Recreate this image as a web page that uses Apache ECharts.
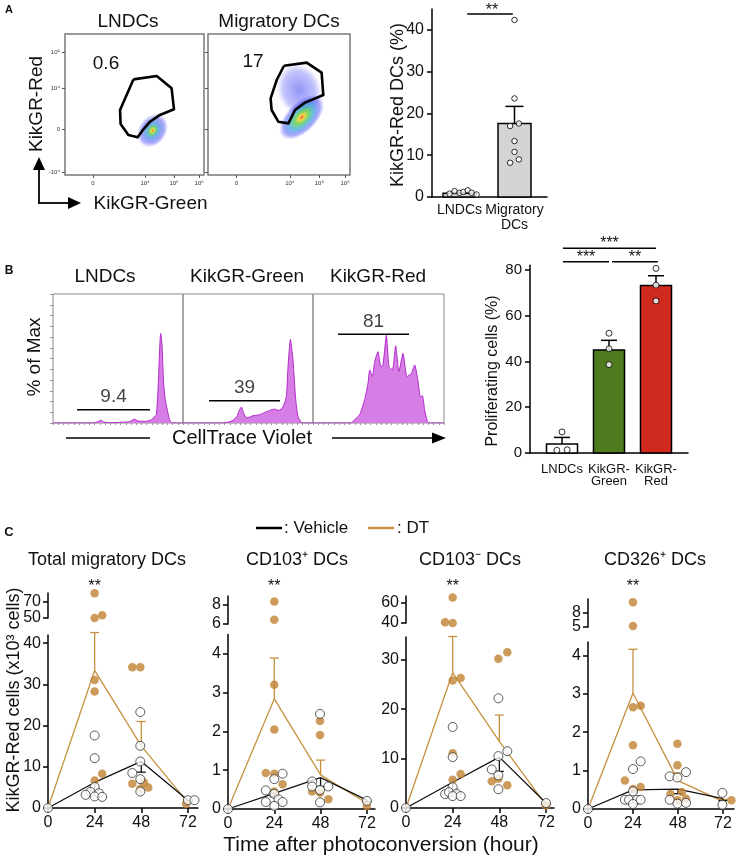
<!DOCTYPE html>
<html><head><meta charset="utf-8">
<script src="https://cdn.jsdelivr.net/npm/echarts@6/dist/echarts.min.js"></script>
<style>html,body{margin:0;padding:0;background:#fff}#c{width:736px;height:858px}</style>
</head><body><div id="c"></div>
<script>
const FONT = "'Liberation Sans', Arial, Helvetica, sans-serif";

// ===== Panel A: flow plots (abstract 0-100 display units) =====
const flowTitles = ['LNDCs', 'Migratory DCs'];
const flowGatePct = ['0.6', '17'];
const flowXTickPos = [20, 57.6, 78.4, 96.5];
const flowXTickLabels = ['0', '10⁴', '10⁵', '10⁶'];
const flowYTickPos = [2.1, 32.6, 61.7, 87.2];
const flowYTickLabels = ['-10⁴', '0', '10⁴', '10⁵'];
const gateLNDC = [[49.2,67.8],[66,70.2],[76.7,61.5],[78.4,46.6],[68.3,42.6],[61.2,37.8],[56.4,32.4],[52.3,26.7],[45.6,28.4],[40,36.2],[39.6,46.1],[49.2,67.8]];
const gateMig = [[53.5,77.5],[69.5,79.7],[80,72.6],[81.2,56.7],[68.3,51.3],[61.3,46.1],[56.6,36.6],[49.5,37.8],[44.8,46.1],[44.1,54.4],[48.4,67.4],[53.5,77.5]];
const cloudLNDC = [[63, 31.5]];
const cloudMigSparse = [[64.3, 60.3]];
const cloudMigDense = [[66, 40.9]];

// ===== Panel A: bar chart =====
const barACats = ['LNDCs', 'Migratory\nDCs'];
const barAMean = [0.9, 17.6];
const barASem = [0.2, 4.1];
const barAPointsLN = [0.8, 1.4, 1.0, 1.2, 1.6, 1.0, 0.6];
const barAJitterLN = [-0.18, -0.09, 0, 0.07, 0.15, 0.22, 0.31];
const barAPointsMig = [42.4, 23.6, 17.0, 17.6, 13.4, 10.8, 8.2, 9.0];
const barAJitterMig = [0, 0, -0.08, 0.08, 0, 0, -0.08, 0.08];
const barATicks = [0, 10, 20, 30, 40];

// ===== Panel B: histograms (x: CellTrace Violet, y: % of Max) =====
const histTitles = ['LNDCs', 'KikGR-Green', 'KikGR-Red'];
const histLNDC = [[0,0],[30.8,0],[34.6,1.5],[36.7,3],[39,1.1],[43.6,0.4],[51.3,0.7],[59,1.5],[62.8,4.4],[65.4,2.2],[71.8,1.9],[75.6,3.7],[77.7,6.7],[79.5,9.3],[81,44],[82.1,85],[82.8,100],[83.8,89],[85.1,44],[86.4,26],[87.9,14.8],[89.7,3.7],[91,0.7],[93,0],[100,0]];
const histGreen = [[0,0],[28,0],[33.3,0.5],[38.5,3],[41.5,7.4],[43,13],[44.9,17.8],[46.7,11],[49.2,5.6],[53.8,8.1],[59,9.3],[62.8,11.8],[66.7,14],[70.5,15.5],[73.8,14],[76.9,17.8],[79.5,29.6],[80.8,62.9],[82.6,93.2],[84.6,70.3],[86.7,25.9],[88.5,7.4],[91,0.7],[93,0],[100,0]];
const histRed = [[0,0],[29.3,0],[30.5,1.9],[35.6,9.3],[39.4,25.9],[42,44.4],[43.3,59.2],[45.3,51.8],[47.1,68.5],[49.6,79.6],[51.7,62.9],[53.4,64.8],[56,98],[58,62.9],[60.6,59.2],[63.1,86.2],[65.6,57.4],[68.7,77.7],[71.8,51.8],[75.1,55.5],[77.6,64.8],[80.2,46.3],[81.9,29.6],[83.5,30.3],[85.2,14.8],[87.3,1.9],[89,0],[100,0]];
const histGateLabels = ['9.4', '39', '81'];
const histGateRanges = [[18.5, 74.6, 14.8], [20, 74.6, 24.9], [19.1, 73.3, 99]];

// ===== Panel B: bar chart =====
const barBCats = ['LNDCs', 'KikGR-\nGreen', 'KikGR-\nRed'];
const barBMean = [3.9, 45.0, 73.1];
const barBSem = [2.9, 4.2, 4.3];
const barBPoints = [[9.2, 1.2, 1.4], [52.3, 45.5, 38.6], [80.6, 73.3, 66.4]];
const barBJitter = [[0, -0.11, 0.11], [0, 0, 0], [0, 0, 0]];
const barBTicks = [0, 20, 40, 60, 80];

// ===== Panel C =====
const cTimes = [0, 24, 48, 72];
const cTitles = ['Total migratory DCs', 'CD103⁺ DCs', 'CD103⁻ DCs', 'CD326⁺ DCs'];

const c1VehMean = [0, 6.2, 11.3, 1.9];
const c1VehSem = [0, 2.0, 2.6, 0.2];
const c1DtMean = [0, 33.4, 15.1, 1.3];
const c1DtSem = [0, 9.2, 5.9, 0.2];
const c1VehPts = [[0,0],[24,17.6],[24,12.1],[24,5.1],[21.9,3.9],[19.4,3.2],[26.2,3.6],[24,2.8],[27.9,2.7],[47.5,23.3],[47.5,15.1],[47.5,11.3],[43.4,8.5],[47.5,7.0],[47.5,4.0],[72,1.9],[75.4,1.9]];
const c1DtPts = [[24,31.1],[24,28.3],[24,6.7],[27.9,8.3],[43.4,34.2],[47.5,34.2],[43.4,5.9],[49.4,6.2],[47.5,4.7],[51.6,5.0],[71.1,1.0]];
const c1DtPtsUp = [[24,80.9],[24,50],[27.9,53.5]];
const c1LowTicks = [0, 10, 20, 30, 40];
const c1UpTicks = [50, 70];

const c2VehMean = [0, 0.40, 0.81, 0.23];
const c2VehSem = [0, 0.08, 0.23, 0.05];
const c2DtMean = [0, 2.84, 0.88, 0.15];
const c2DtSem = [0, 1.05, 0.38, 0.05];
const c2VehPts = [[0,0],[28.3,0.91],[24,0.77],[19.6,0.48],[24,0.39],[19.6,0.18],[26.2,0.25],[28.3,0.18],[24,0.08],[47.7,2.45],[43.6,0.71],[43.6,0.58],[47.7,0.49],[52,0.58],[47.7,0.17],[72,0.21]];
const c2DtPts = [[24,3.2],[24,2.05],[19.6,0.93],[24,0.91],[28.3,0.64],[24,0.45],[47.7,2.27],[47.7,1.91],[43.6,0.45],[47.7,0.42],[52,0.25],[72,0.08]];
const c2DtPtsUp = [[24,8.34],[24,6.45]];
const c2LowTicks = [0, 1, 2, 3, 4];
const c2UpTicks = [6, 8];

const c3VehMean = [0, 5.2, 10.3, 1.0];
const c3VehSem = [0, 1.8, 2.9, 0.2];
const c3DtMean = [0, 27.4, 13.5, 0.6];
const c3DtSem = [0, 7.3, 5.3, 0.2];
const c3VehPts = [[0,0],[24,16.4],[24,10.3],[24,4.2],[20.1,2.8],[22.1,3.2],[26,2.9],[24,2.4],[28.1,2.4],[47.5,22.2],[47.5,10.5],[52.1,11.5],[44.1,7.8],[47.5,6.6],[47.5,3.8],[72,1.0]];
const c3DtPts = [[24,25.8],[28.1,26.3],[24,11.1],[24,5.7],[28.1,6.9],[47.5,30.2],[52.1,31.5],[44.1,5.4],[47.5,5.9],[52.1,4.6],[72,0.5]];
const c3DtPtsUp = [[24,65.3],[20.1,40.7],[24,40]];
const c3LowTicks = [0, 10, 20, 30];
const c3UpTicks = [40, 60];

const c4VehMean = [0, 0.50, 0.52, 0.27];
const c4VehSem = [0, 0.05, 0.12, 0.05];
const c4DtMean = [0, 3.02, 0.74, 0.2];
const c4DtSem = [0, 1.14, 0.2, 0.05];
const c4VehPts = [[0,0],[28.1,1.24],[24,1.04],[24,0.46],[19.7,0.24],[21.9,0.24],[26.1,0.24],[28.1,0.24],[24,0.13],[52.3,0.96],[43.6,0.85],[47.7,0.82],[43.6,0.24],[47.7,0.14],[52.3,0.16],[71.7,0.42],[71.7,0.11]];
const c4DtPts = [[24,2.65],[28.1,2.69],[24,1.66],[19.7,0.74],[28.1,0.57],[24,0.52],[47.7,1.70],[47.7,1.14],[44,0.39],[50.1,0.44],[47.7,0.23],[52.3,0.27],[76.5,0.23]];
const c4DtPtsUp = [[24,10.2],[24,5.2]];
const c4LowTicks = [0, 1, 2, 3, 4];
const c4UpTicks = [5, 8];

// ---------------- layout & styles ----------------
const ORANGE_DOT = '#c08232', ORANGE_LINE = '#c6913f';
const HIST_FILL = '#d67ee6', HIST_LINE = '#b02bc8';
const grids = [], xAxes = [], yAxes = [], series = [], extraYAxes = [];
function addGrid(g, xa, ya) {
  grids.push(g); const gi = grids.length - 1;
  xa.gridIndex = gi; ya.gridIndex = gi;
  xa.splitLine = {show: false}; ya.splitLine = {show: false};
  xAxes.push(xa); yAxes.push(ya); return gi;
}
const blackLine = {show: true, onZero: false, lineStyle: {color: '#000', width: 1.5}};
const lbl = (size, extra) => Object.assign({fontSize: size, fontFamily: FONT, color: '#111', showMinLabel: true, showMaxLabel: true}, extra || {});

// gradients
const denseGrad = {type: 'radial', x: 0.5, y: 0.5, r: 0.5, colorStops: [
  {offset: 0, color: 'rgba(235,30,20,1)'}, {offset: 0.12, color: 'rgba(250,205,25,1)'},
  {offset: 0.3, color: 'rgba(80,205,60,0.95)'}, {offset: 0.55, color: 'rgba(30,150,215,0.8)'},
  {offset: 0.8, color: 'rgba(40,40,240,0.5)'}, {offset: 1, color: 'rgba(40,40,255,0)'}]};
const lnGrad = {type: 'radial', x: 0.5, y: 0.5, r: 0.5, colorStops: [
  {offset: 0, color: 'rgba(235,30,20,1)'}, {offset: 0.08, color: 'rgba(250,205,25,1)'},
  {offset: 0.2, color: 'rgba(80,205,60,0.95)'}, {offset: 0.4, color: 'rgba(30,130,220,0.8)'},
  {offset: 0.75, color: 'rgba(40,40,240,0.5)'}, {offset: 1, color: 'rgba(40,40,255,0)'}]};
const sparseGrad = {type: 'radial', x: 0.5, y: 0.5, r: 0.5, colorStops: [
  {offset: 0, color: 'rgba(45,55,235,0.65)'}, {offset: 0.7, color: 'rgba(55,55,245,0.38)'},
  {offset: 1, color: 'rgba(60,60,255,0)'}]};

// ---- Flow plots
const flowLayout = [{left: 65, top: 34, width: 139, height: 141}, {left: 208, top: 34, width: 142, height: 141}];
const flowGates = [gateLNDC, gateMig];
flowLayout.forEach((f, i) => {
  const gi = addGrid(Object.assign({show: true, borderColor: '#7a7a7a', borderWidth: 1.5}, f),
    {type: 'value', min: 0, max: 100, axisLine: {show: false},
     axisTick: {show: true, customValues: flowXTickPos, length: 3, lineStyle: {color: '#555'}},
     axisLabel: {show: true, customValues: flowXTickPos, formatter: v => flowXTickLabels[flowXTickPos.indexOf(v)], fontSize: 6, color: '#333', margin: 5, fontFamily: FONT, showMinLabel: true, showMaxLabel: true}},
    {type: 'value', min: 0, max: 100, axisLine: {show: false},
     axisTick: {show: true, customValues: flowYTickPos, length: 3, lineStyle: {color: '#555'}},
     axisLabel: {show: i === 0, customValues: flowYTickPos, formatter: v => flowYTickLabels[flowYTickPos.indexOf(v)], fontSize: 6, color: '#333', margin: 5, fontFamily: FONT, showMinLabel: true, showMaxLabel: true}});
  series.push({type: 'line', xAxisIndex: gi, yAxisIndex: gi, data: flowGates[i], symbol: 'none', z: 6, silent: true,
    lineStyle: {color: '#000', width: 2.6, join: 'round'}});
});
series.push({type: 'scatter', xAxisIndex: 0, yAxisIndex: 0, data: cloudLNDC, symbolSize: [36, 28], symbolRotate: 55, clip: false, z: 3, silent: true, itemStyle: {color: lnGrad}});
series.push({type: 'scatter', xAxisIndex: 1, yAxisIndex: 1, data: cloudMigSparse, symbolSize: [44, 54], symbolRotate: 20, clip: false, z: 2, silent: true, itemStyle: {color: sparseGrad}});
series.push({type: 'scatter', xAxisIndex: 1, yAxisIndex: 1, data: cloudMigDense, symbolSize: [56, 30], symbolRotate: 45, clip: false, z: 3, silent: true, itemStyle: {color: denseGrad}});

// ---- bar render helper
function makeBarRender(halfW, colors, capHalf) {
  return function (params, api) {
    const x = api.value(0), m = api.value(1), s = api.value(2);
    const bl = api.coord([x - halfW, 0]), tr = api.coord([x + halfW, m]);
    const top = api.coord([x, m]), et = api.coord([x, m + s]);
    return {type: 'group', children: [
      {type: 'line', shape: {x1: top[0], y1: top[1], x2: et[0], y2: et[1]}, style: {stroke: '#000', lineWidth: 1.5}},
      {type: 'line', shape: {x1: et[0] - capHalf, y1: et[1], x2: et[0] + capHalf, y2: et[1]}, style: {stroke: '#000', lineWidth: 1.5}},
      {type: 'rect', shape: {x: bl[0], y: tr[1], width: tr[0] - bl[0], height: bl[1] - tr[1]}, style: {fill: colors[params.dataIndex], stroke: '#000', lineWidth: 1.5}}
    ]};
  };
}

// ---- Panel A bar
const gA = addGrid({left: 432, top: 9.1, width: 115, height: 187.9},
  {type: 'value', min: 0.5, max: 2.591, axisLine: blackLine, axisTick: {show: false},
   axisLabel: lbl(14, {customValues: [1, 2], formatter: v => barACats[Math.round(v) - 1], lineHeight: 14.5, margin: 6})},
  {type: 'value', min: 0, max: 45, axisLine: blackLine,
   axisTick: {show: true, customValues: barATicks, length: 5, lineStyle: {color: '#000', width: 1.5}},
   axisLabel: lbl(16, {customValues: barATicks, margin: 8})});
series.push({type: 'custom', coordinateSystem: 'cartesian2d', xAxisIndex: gA, yAxisIndex: gA, z: 2,
  renderItem: makeBarRender(0.3, ['#d4d4d4', '#d4d4d4'], 9),
  data: barAMean.map((m, i) => [i + 1, m, barASem[i]])});
series.push({type: 'scatter', xAxisIndex: gA, yAxisIndex: gA, symbolSize: 5.5, clip: false, z: 5,
  itemStyle: {color: '#fff', borderColor: '#000', borderWidth: 1},
  data: barAPointsLN.map((v, i) => [1 + barAJitterLN[i], v]).concat(barAPointsMig.map((v, i) => [2 + barAJitterMig[i], v]))});
series.push({type: 'line', xAxisIndex: gA, yAxisIndex: gA, symbol: 'none', clip: false, lineStyle: {color: '#000', width: 1.5},
  data: [[1 + 0.14, 43.8], [2 - 0.03, 43.8]]});

// ---- Panel B histograms
const histLayout = [{left: 53, width: 130}, {left: 183, width: 130}, {left: 313, width: 131}];
const histData = [histLNDC, histGreen, histRed];
histLayout.forEach((h, i) => {
  const gi = addGrid({left: h.left, top: 294, width: h.width, height: 129, show: true, borderColor: '#8a8a8a', borderWidth: 1},
    {type: 'value', min: 0, max: 100, interval: 4, axisLine: {show: false},
     axisTick: {show: true, length: 2, lineStyle: {color: '#999'}}, axisLabel: {show: false}},
    {type: 'value', min: 0, max: 144, interval: 12, axisLine: {show: false},
     axisTick: {show: i === 0, length: 3, lineStyle: {color: '#999'}}, axisLabel: {show: false}});
  series.push({type: 'line', xAxisIndex: gi, yAxisIndex: gi, data: histData[i], symbol: 'none', smooth: 0.2, z: 2,
    lineStyle: {color: HIST_LINE, width: 1}, areaStyle: {color: HIST_FILL, opacity: 1}});
  const g = histGateRanges[i];
  series.push({type: 'line', xAxisIndex: gi, yAxisIndex: gi, symbol: 'none', z: 4, lineStyle: {color: '#000', width: 1.5},
    data: [[g[0], g[2]], [g[1], g[2]]]});
  series.push({type: 'scatter', xAxisIndex: gi, yAxisIndex: gi, symbolSize: 0, clip: false, z: 4,
    data: [[(g[0] + g[1]) / 2, g[2]]],
    label: {show: true, position: 'top', distance: 3, formatter: () => histGateLabels[i], fontSize: 19, fontFamily: FONT, color: '#111'}});
});

// ---- Panel B bar
const gB = addGrid({left: 530, top: 265.2, width: 158, height: 187.8},
  {type: 'value', min: 0.319, max: 3.681, axisLine: blackLine, axisTick: {show: false},
   axisLabel: lbl(13, {customValues: [1, 2, 3], formatter: v => barBCats[Math.round(v) - 1], lineHeight: 12.5, margin: 10})},
  {type: 'value', min: 0, max: 82, axisLine: blackLine,
   axisTick: {show: true, customValues: barBTicks, length: 5, lineStyle: {color: '#000', width: 1.5}},
   axisLabel: lbl(15, {customValues: barBTicks, margin: 8})});
series.push({type: 'custom', coordinateSystem: 'cartesian2d', xAxisIndex: gB, yAxisIndex: gB, z: 2,
  renderItem: makeBarRender(0.33, ['#ffffff', '#4e7b1d', '#d02a1e'], 8),
  data: barBMean.map((m, i) => [i + 1, m, barBSem[i]])});
series.push({type: 'scatter', xAxisIndex: gB, yAxisIndex: gB, symbolSize: 6, clip: false, z: 5,
  itemStyle: {color: '#fff', borderColor: '#000', borderWidth: 1},
  data: barBPoints.flatMap((arr, i) => arr.map((v, j) => [i + 1 + barBJitter[i][j], v]))});
[[1.02, 3.0, 89.4], [1.02, 2.0, 83.5], [2.064, 3.04, 83.5]].forEach(b => {
  series.push({type: 'line', xAxisIndex: gB, yAxisIndex: gB, symbol: 'none', clip: false, lineStyle: {color: '#000', width: 1.5},
    data: [[b[0], b[2]], [b[1], b[2]]]});
});

// ---- Panel C
const cSets = [
  {vm: c1VehMean, vs: c1VehSem, dm: c1DtMean, ds: c1DtSem, vp: c1VehPts, dp: c1DtPts, du: c1DtPtsUp, lt: c1LowTicks, ut: c1UpTicks},
  {vm: c2VehMean, vs: c2VehSem, dm: c2DtMean, ds: c2DtSem, vp: c2VehPts, dp: c2DtPts, du: c2DtPtsUp, lt: c2LowTicks, ut: c2UpTicks},
  {vm: c3VehMean, vs: c3VehSem, dm: c3DtMean, ds: c3DtSem, vp: c3VehPts, dp: c3DtPts, du: c3DtPtsUp, lt: c3LowTicks, ut: c3UpTicks},
  {vm: c4VehMean, vs: c4VehSem, dm: c4DtMean, ds: c4DtSem, vp: c4VehPts, dp: c4DtPts, du: c4DtPtsUp, lt: c4LowTicks, ut: c4UpTicks}];
const cLayout = [
  {left: 48, width: 150, lowTop: 635, lowH: 173, upTop: 593, upH: 25, xMax: 77.2, yMax: 42, up: [50, 81.25]},
  {left: 228, width: 147, lowTop: 634.4, lowH: 174.6, upTop: 596, upH: 28, xMax: 76.2, yMax: 4.5, up: [6, 8.9]},
  {left: 406, width: 148, lowTop: 637, lowH: 171, upTop: 596, upH: 27, xMax: 76.1, yMax: 34.6, up: [40, 66.7]},
  {left: 588, width: 146, lowTop: 642, lowH: 167, upTop: 599, upH: 28, xMax: 77.9, yMax: 4.35, up: [5, 10.9]}];
function makeErrRender(dir, color, capHalf) {
  return function (params, api) {
    const x = api.value(0), m = api.value(1), s = api.value(2);
    const a = api.coord([x, m]), b = api.coord([x, m + dir * s]);
    return {type: 'group', children: [
      {type: 'line', shape: {x1: a[0], y1: a[1], x2: b[0], y2: b[1]}, style: {stroke: color, lineWidth: 1.3}},
      {type: 'line', shape: {x1: b[0] - capHalf, y1: b[1], x2: b[0] + capHalf, y2: b[1]}, style: {stroke: color, lineWidth: 1.3}}]};
  };
}
const vehOpen = {color: '#fff', borderColor: '#333', borderWidth: 1};
cSets.forEach((s, i) => {
  const L0 = cLayout[i];
  const gl = addGrid({left: L0.left, top: L0.lowTop, width: L0.width, height: L0.lowH},
    {type: 'value', min: 0, max: L0.xMax, axisLine: blackLine,
     axisTick: {show: true, customValues: cTimes, length: 5, lineStyle: {color: '#000', width: 1.5}},
     axisLabel: lbl(16, {customValues: cTimes, margin: 7})},
    {type: 'value', min: 0, max: L0.yMax, axisLine: blackLine,
     axisTick: {show: true, customValues: s.lt, length: 5, lineStyle: {color: '#000', width: 1.5}},
     axisLabel: lbl(16, {customValues: s.lt, margin: 7})});
  const gu = addGrid({left: L0.left, top: L0.upTop, width: L0.width, height: L0.upH},
    {type: 'value', min: 0, max: L0.xMax, show: false},
    {type: 'value', min: L0.up[0], max: L0.up[1], axisLine: blackLine,
     axisTick: {show: true, customValues: s.ut, length: 5, lineStyle: {color: '#000', width: 1.5}},
     axisLabel: lbl(16, {customValues: [s.ut[0]], margin: 7})});
  // second label-only axis on the upper segment (keeps close tick labels from hiding each other)
  extraYAxes.push({type: 'value', gridIndex: gu, position: 'left', min: L0.up[0], max: L0.up[1], splitLine: {show: false},
    axisLine: {show: false}, axisTick: {show: false}, axisLabel: lbl(16, {customValues: [s.ut[1]], margin: 7})});
  series.push({type: 'line', xAxisIndex: gl, yAxisIndex: gl, symbol: 'none', z: 2, lineStyle: {color: ORANGE_LINE, width: 1.3},
    data: cTimes.map((t, k) => [t, s.dm[k]])});
  series.push({type: 'line', xAxisIndex: gl, yAxisIndex: gl, symbol: 'none', z: 2, lineStyle: {color: '#111', width: 1.3},
    data: cTimes.map((t, k) => [t, s.vm[k]])});
  series.push({type: 'custom', coordinateSystem: 'cartesian2d', xAxisIndex: gl, yAxisIndex: gl, z: 3,
    renderItem: makeErrRender(1, ORANGE_LINE, 4.5), data: cTimes.slice(1).map((t, k) => [t, s.dm[k + 1], s.ds[k + 1]])});
  series.push({type: 'custom', coordinateSystem: 'cartesian2d', xAxisIndex: gl, yAxisIndex: gl, z: 3,
    renderItem: makeErrRender(-1, '#111', 4.5), data: cTimes.slice(1).map((t, k) => [t, s.vm[k + 1], s.vs[k + 1]])});
  series.push({type: 'scatter', xAxisIndex: gl, yAxisIndex: gl, symbolSize: 8.5, clip: false, z: 4, itemStyle: {color: ORANGE_DOT}, data: s.dp});
  series.push({type: 'scatter', xAxisIndex: gu, yAxisIndex: gu, symbolSize: 8.5, clip: false, z: 4, itemStyle: {color: ORANGE_DOT}, data: s.du});
  series.push({type: 'scatter', xAxisIndex: gl, yAxisIndex: gl, symbolSize: 9, clip: false, z: 5, itemStyle: vehOpen, data: s.vp});
});
extraYAxes.forEach(a => yAxes.push(a));

// ---------------- text / annotations ----------------
const T = (x, y, text, size, o) => { o = o || {}; return {type: 'text', x, y, rotation: o.rot || 0, silent: true, z: 100,
  style: {text, fontSize: size, fontFamily: FONT, fontWeight: o.bold ? 'bold' : 'normal', fill: o.color || '#111', align: o.align || 'center', verticalAlign: 'middle'}}; };
const Ln = (x1, y1, x2, y2, w, c) => ({type: 'line', silent: true, z: 100, shape: {x1, y1, x2, y2}, style: {stroke: c || '#000', lineWidth: w || 1.5}});
const Pg = (pts, c) => ({type: 'polygon', silent: true, z: 100, shape: {points: pts}, style: {fill: c || '#000'}});
const R90 = Math.PI / 2;
const elements = [
  T(9, 10, 'A', 11, {bold: true}), T(9, 271, 'B', 12, {bold: true}), T(9, 532, 'C', 13, {bold: true}),
  T(128, 22, flowTitles[0], 19), T(279, 22, flowTitles[1], 19),
  T(106, 63.5, flowGatePct[0], 19), T(253, 62, flowGatePct[1], 19),
  T(36.5, 104, 'KikGR-Red', 19, {rot: R90}), T(150.5, 204, 'KikGR-Green', 19),
  Ln(39, 203.8, 39, 168, 1.8), Pg([[39, 157], [33, 170], [45, 170]]),
  Ln(38.1, 203, 70, 203, 1.8), Pg([[81, 203], [68, 197], [68, 209]]),
  T(398, 105, 'KikGR-Red DCs (%)', 18, {rot: R90}), T(492, 11, '**', 16),
  T(105, 277, histTitles[0], 19), T(247, 277, histTitles[1], 19), T(378, 277, histTitles[2], 19),
  T(35, 357, '% of Max', 19, {rot: R90}),
  Ln(66, 438, 150, 438, 1.5), T(242, 438, 'CellTrace Violet', 20), Ln(332, 438, 434, 438, 1.5), Pg([[446, 438], [432, 432.5], [432, 443.5]]),
  T(493, 371, 'Proliferating cells (%)', 16, {rot: R90}),
  T(609.5, 244, '***', 16), T(586, 258, '***', 16), T(635, 258, '**', 16),
  Ln(256, 528, 282, 528, 2.5), T(284, 528, ': Vehicle', 17, {align: 'left'}),
  Ln(368, 528, 394, 528, 2.5, ORANGE_LINE), T(397, 528, ': DT', 17, {align: 'left'}),
  T(107, 560, cTitles[0], 18), T(297, 560, cTitles[1], 18), T(470, 560, cTitles[2], 18), T(655, 560, cTitles[3], 18),
  T(14, 700, 'KikGR-Red cells (x10³ cells)', 18, {rot: R90}),
  T(381, 845, 'Time after photoconversion (hour)', 21)
];
cLayout.forEach(L0 => elements.push(T(L0.left + 24 / L0.xMax * L0.width, 587, '**', 16)));

const chart = echarts.init(document.getElementById('c'), null, {renderer: 'canvas'});
chart.setOption({
  animation: false, backgroundColor: '#fff',
  grid: grids, xAxis: xAxes, yAxis: yAxes, series: series,
  graphic: {elements: elements}
});
</script></body></html>
